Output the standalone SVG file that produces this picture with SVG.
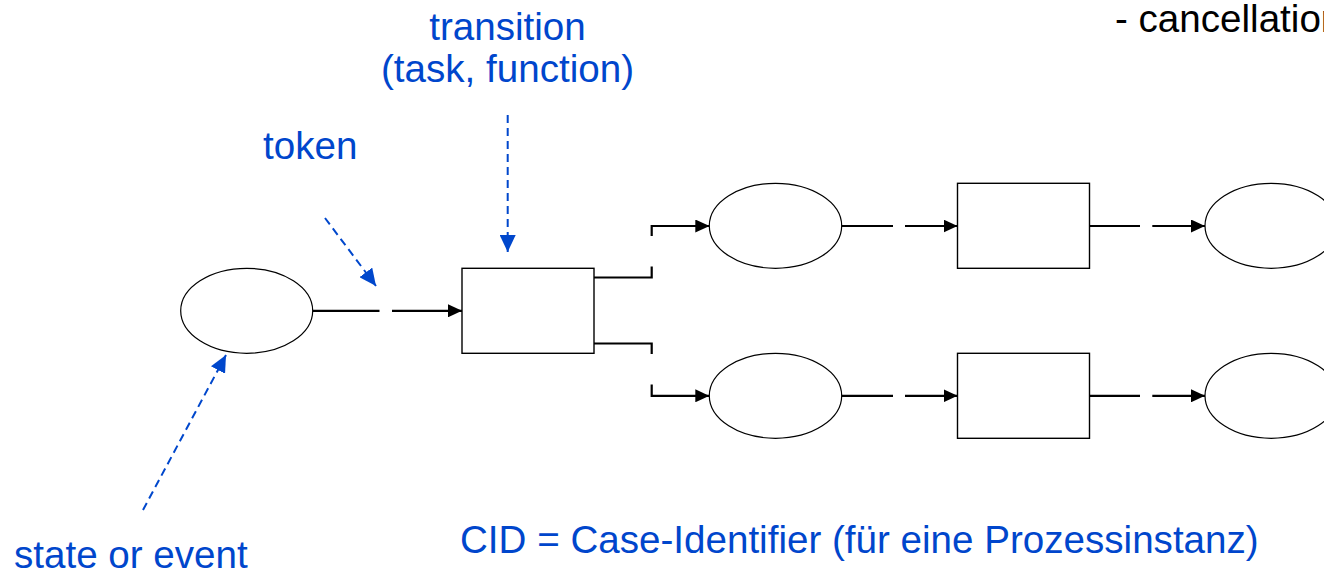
<svg xmlns="http://www.w3.org/2000/svg" width="1324" height="570" viewBox="0 0 1324 570">
<defs>
<style>
.place{fill:#fff;stroke:#000;stroke-width:1.2}
.trans{fill:#fff;stroke:#000;stroke-width:1.4}
.arc{fill:none;stroke:#000;stroke-width:2.2}
.note{fill:none;stroke:#0047cc;stroke-width:2}
.note{stroke-dasharray:8 5}
.lbl{font-family:"Liberation Sans",Arial,sans-serif;font-size:38.6px;fill:#0046cc}
.blk{font-family:"Liberation Sans",Arial,sans-serif;font-size:38.6px;fill:#000}
</style>
<marker id="ah" viewBox="0 0 14 13" refX="14" refY="6.5" markerWidth="14" markerHeight="13" markerUnits="userSpaceOnUse" orient="auto">
<path d="M0,0 L14,6.5 L0,13 z" fill="#000"/>
</marker>
<marker id="bh" viewBox="0 0 17 16" refX="17" refY="8" markerWidth="17" markerHeight="16" markerUnits="userSpaceOnUse" orient="auto">
<path d="M0,0 L17,8 L0,16 z" fill="#0047cc"/>
</marker>
</defs>
<rect width="1324" height="570" fill="#fff"/>

<g id="p0"><ellipse class="place" cx="246.7" cy="310.8" rx="66" ry="42.5"/></g>
<g id="t0"><rect class="trans" x="462" y="268.3" width="132" height="85"/></g>
<g id="p1"><ellipse class="place" cx="775.5" cy="225.8" rx="66.2" ry="42.5"/></g>
<g id="t1"><rect class="trans" x="957.5" y="183.3" width="132" height="85"/></g>
<g id="p2"><ellipse class="place" cx="1271.2" cy="225.8" rx="66.2" ry="42.5"/></g>
<g id="p3"><ellipse class="place" cx="775.5" cy="395.8" rx="66.2" ry="42.5"/></g>
<g id="t2"><rect class="trans" x="957.5" y="353.3" width="132" height="85"/></g>
<g id="p4"><ellipse class="place" cx="1271.2" cy="395.8" rx="66.2" ry="42.5"/></g>

<g id="connectors">
<path class="arc" d="M313,310.8 H379.5"/>
<path class="arc" d="M392,310.8 H462" marker-end="url(#ah)"/>
<path class="arc" d="M594,277.5 H651.7 V266.5"/>
<path class="arc" d="M651.7,236 V226 H709.3" marker-end="url(#ah)"/>
<path class="arc" d="M594,343.5 H651.7 V354"/>
<path class="arc" d="M651.7,384.5 V395.8 H709.3" marker-end="url(#ah)"/>
<path class="arc" d="M841.7,226 H893"/>
<path class="arc" d="M905,226 H957.5" marker-end="url(#ah)"/>
<path class="arc" d="M1089.5,226 H1140"/>
<path class="arc" d="M1152.3,226 H1205" marker-end="url(#ah)"/>
<path class="arc" d="M841.7,395.8 H893"/>
<path class="arc" d="M905,395.8 H957.5" marker-end="url(#ah)"/>
<path class="arc" d="M1089.5,395.8 H1140"/>
<path class="arc" d="M1152.3,395.8 H1205" marker-end="url(#ah)"/>
<path class="note" d="M507.7,115 L507.7,252" marker-end="url(#bh)"/>
<path class="note" d="M325,218 L376,286" marker-end="url(#bh)"/>
<path class="note" d="M143,510 L226,355" marker-end="url(#bh)"/>
</g>

<g id="labels">
<text class="lbl" x="507.5" y="40" text-anchor="middle">transition</text>
<text class="lbl" x="507.5" y="82" text-anchor="middle">(task, function)</text>
<text class="lbl" x="263" y="159">token</text>
<text class="lbl" x="14" y="568">state or event</text>
<text class="lbl" x="460" y="553">CID = Case-Identifier (für eine Prozessinstanz)</text>
<text class="blk" x="1115" y="32">- cancellation</text>
</g>
</svg>
